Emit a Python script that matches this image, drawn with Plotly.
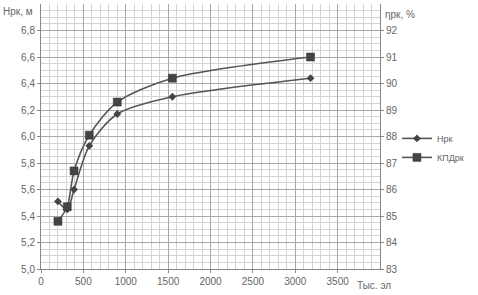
import plotly.graph_objects as go

x_vals = [200, 310, 390, 570, 900, 1550, 3180]
h_rk = [5.51, 5.45, 5.60, 5.93, 6.17, 6.30, 6.44]
kpd_rk = [84.8, 85.35, 86.7, 88.05, 89.3, 90.2, 91.0]

x_ticks = [0, 500, 1000, 1500, 2000, 2500, 3000, 3500]
y_ticks = [5.0, 5.2, 5.4, 5.6, 5.8, 6.0, 6.2, 6.4, 6.6, 6.8]
y2_ticks = [83, 84, 85, 86, 87, 88, 89, 90, 91, 92]

line_col = "#555555"
mark_col = "#444444"
font_fam = "Liberation Sans, Arial, sans-serif"

fig = go.Figure()
fig.add_trace(go.Scatter(
    x=x_vals, y=h_rk, name="Нрк", mode="lines+markers",
    line=dict(color=line_col, width=1.6, shape="spline", smoothing=0.8),
    marker=dict(symbol="diamond", size=6, color=mark_col),
    yaxis="y"))
fig.add_trace(go.Scatter(
    x=x_vals, y=kpd_rk, name="КПДрк", mode="lines+markers",
    line=dict(color=line_col, width=1.6, shape="spline", smoothing=0.8),
    marker=dict(symbol="square", size=8, color=mark_col, line=dict(color="#333", width=0.5)),
    yaxis="y2"))

grid_major = "#a8a8a8"
grid_minor = "#d4d4d4"
tick_font = dict(family=font_fam, size=10, color="#666666")

fig.update_layout(
    width=478, height=295,
    margin=dict(l=41, r=98, t=4, b=26),
    paper_bgcolor="white", plot_bgcolor="white",
    separators=", ",
    showlegend=True,
    legend=dict(x=1.05, y=0.457, xanchor="left", yanchor="middle",
                font=dict(family=font_fam, size=9, color="#666666"),
                bgcolor="rgba(0,0,0,0)", itemwidth=30, tracegroupgap=2),
    xaxis=dict(range=[0, 4000], tickvals=x_ticks, ticks="outside", ticklen=3,
               tickcolor="#888", showline=True, linecolor="#888", linewidth=1,
               showgrid=True, gridcolor=grid_major, gridwidth=1,
               minor=dict(dtick=100, showgrid=True, gridcolor=grid_minor, gridwidth=1),
               tickfont=tick_font, zeroline=False),
    yaxis=dict(range=[5.0, 7.0], tickvals=y_ticks, tickformat=".1f", ticks="outside",
               ticklen=3, tickcolor="#888", showline=True, linecolor="#888", linewidth=1,
               showgrid=True, gridcolor=grid_major, gridwidth=1,
               minor=dict(dtick=0.05, showgrid=True, gridcolor=grid_minor, gridwidth=1),
               tickfont=tick_font, zeroline=False),
    yaxis2=dict(range=[83, 93], tickvals=y2_ticks, overlaying="y", side="right",
                ticks="outside", ticklen=3, tickcolor="#888", showline=True,
                linecolor="#888", linewidth=1, showgrid=False, zeroline=False,
                tickfont=tick_font),
    annotations=[
        dict(text="Нрк, м", xref="paper", yref="paper", x=-0.118, y=0.97,
             xanchor="left", yanchor="middle", showarrow=False,
             font=dict(family=font_fam, size=10, color="#666666")),
        dict(text="ηрк, %", xref="paper", yref="paper", x=1.01, y=0.962,
             xanchor="left", yanchor="middle", showarrow=False,
             font=dict(family=font_fam, size=10, color="#666666")),
        dict(text="Тыс. эл", xref="paper", yref="paper", x=0.926, y=-0.062,
             xanchor="left", yanchor="middle", showarrow=False,
             font=dict(family=font_fam, size=10, color="#666666")),
    ],
)

fig.write_html("out.html", config={"displayModeBar": False},
               post_script="document.body.style.margin='0';document.body.style.padding='0';")
